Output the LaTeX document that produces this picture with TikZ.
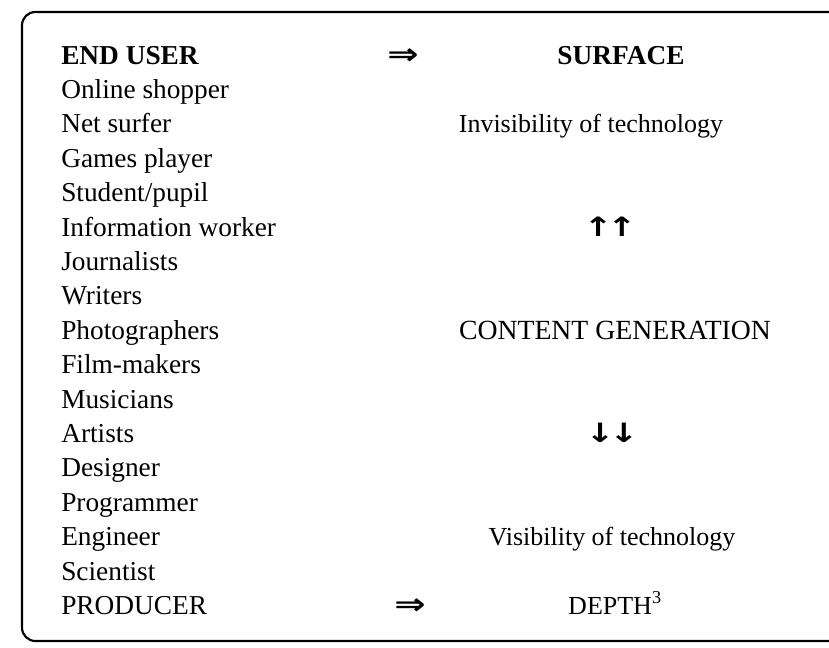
\documentclass[tikz,border=0pt]{standalone}
\usepackage{fontspec}
\setmainfont{Liberation Serif}
\newfontfamily\symfont{DejaVu Sans}
\begin{document}
\begin{tikzpicture}[x=0.75pt,y=-0.75pt,
  lbl/.style={anchor=base west,inner sep=0pt,font=\fontsize{20.5}{22}\selectfont},
  rlbl/.style={anchor=base,inner sep=0pt,font=\fontsize{19.5}{22}\selectfont},
  sym/.style={anchor=base,inner sep=0pt,font=\symfont\bfseries\fontsize{20}{22}\selectfont}]
\useasboundingbox (0,0) rectangle (829,647);
\draw[line width=1.6pt,rounded corners=10pt] (840,12) -- (22,12) -- (22,641) -- (840,641);
\foreach \t [count=\i from 0] in {
  {\textbf{END USER}},Online shopper,Net surfer,Games player,Student/pupil,
  Information worker,Journalists,Writers,Photographers,Film-makers,Musicians,
  Artists,Designer,Programmer,Engineer,Scientist,PRODUCER}
  \node[lbl] (l\i) at (61,{64+34.4*\i}) {\t};
\node[sym] (a1) at (403,64) {\scalebox{1.4}[1.1]{⇒}};
\node[sym] (a2) at (410,614) {\scalebox{1.4}[1.1]{⇒}};
\node[rlbl] (s) at (621,64) {\fontsize{20.5}{22}\selectfont\textbf{SURFACE}};
\node[rlbl] (inv) at (591,{64+34.4*2}) {Invisibility of technology};
\node[sym] (up) at (610,{64+34.4*5}) {\scalebox{1.3}[1]{↑\kern-3pt↑}};
\node[rlbl] (cg) at (615,{64+34.4*8}) {\fontsize{20.8}{22}\selectfont CONTENT GENERATION};
\node[sym] (dn) at (612,{64+34.4*11}) {\scalebox{1.3}[1]{↓\kern-3pt↓}};
\node[rlbl] (vis) at (612,{64+34.4*14}) {Visibility of technology};
\node[rlbl] (dp) at (615,614) {DEPTH\textsuperscript{3}};
\end{tikzpicture}
\end{document}
